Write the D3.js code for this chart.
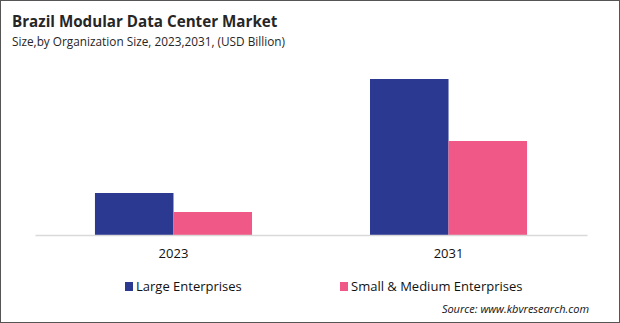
<!DOCTYPE html>
<html>
<head>
<meta charset="utf-8">
<script src="https://cdn.jsdelivr.net/npm/d3@7"></script>
<style>
  body { margin: 0; background: #fff; }
  svg { display: block; font-family: "Open Sans", "Noto Sans", sans-serif; }
</style>
</head>
<body>
<svg width="620" height="323"></svg>
<script>
// data (USD Billion, estimated)
const years = ["2023", "2031"]
const segments = ["Large Enterprises", "Small & Medium Enterprises"]
const largeValues = [0.42, 1.56]
const smallValues = [0.23, 0.94]
const colors = ["#2b3990", "#ef5887"]

const width = 620, height = 323
const margin = {top: 55, right: 33, bottom: 88, left: 35}

const svg = d3.select("svg")

// frame
svg.append("rect")
  .attr("x", 0.5).attr("y", 0.5)
  .attr("width", width - 1).attr("height", height - 1)
  .attr("fill", "#fff")
  .attr("stroke", "#555")

svg.append("text")
  .attr("x", 12).attr("y", 27)
  .attr("font-size", "15.2px")
  .attr("font-weight", "bold")
  .attr("fill", "#262626")
  .text("Brazil Modular Data Center Market")

svg.append("text")
  .attr("x", 12).attr("y", 46)
  .attr("font-size", "11.8px")
  .attr("fill", "#262626")
  .text("Size,by Organization Size, 2023,2031, (USD Billion)")

const rows = years.map((y, i) => ({year: y, values: [largeValues[i], smallValues[i]]}))

const x0 = d3.scaleBand()
  .domain(years)
  .range([margin.left, width - margin.right])
  .paddingInner(0.429)
  .paddingOuter(0.218)

const x1 = d3.scaleBand()
  .domain(d3.range(segments.length))
  .range([0, x0.bandwidth()])

const y = d3.scaleLinear()
  .domain([0, 1.8])
  .range([height - margin.bottom, height - margin.bottom - 180])

const groups = svg.append("g")
  .selectAll("g")
  .data(rows)
  .join("g")
    .attr("transform", d => `translate(${x0(d.year)},0)`)

groups.selectAll("rect")
  .data(d => d.values)
  .join("rect")
    .attr("x", (d, i) => x1(i))
    .attr("width", x1.bandwidth())
    .attr("y", d => y(d))
    .attr("height", d => y(0) - y(d))
    .attr("fill", (d, i) => colors[i])

// x axis
const xAxis = svg.append("g")
  .attr("transform", `translate(0, ${y(0)})`)
  .call(d3.axisBottom(x0).tickSize(0).tickPadding(14))
xAxis.select(".domain").attr("stroke", "#d9d9d9").attr("stroke-width", 1.5)
xAxis.selectAll("text")
  .attr("font-size", "13px")
  .attr("font-family", "Open Sans, sans-serif")
  .attr("fill", "#111")

// legend
const legendX = [125, 340]
const legend = svg.append("g")
  .selectAll("g")
  .data(segments)
  .join("g")
    .attr("transform", (d, i) => `translate(${legendX[i]}, 282)`)

legend.append("rect")
  .attr("width", 8).attr("height", 9)
  .attr("fill", (d, i) => colors[i])

legend.append("text")
  .attr("x", 11).attr("y", 9)
  .attr("font-size", "13px")
  .attr("fill", "#111")
  .text(d => d)

svg.append("text")
  .attr("x", 589).attr("y", 313)
  .attr("text-anchor", "end")
  .attr("font-size", "11px")
  .attr("font-style", "italic")
  .attr("fill", "#111")
  .text("Source: www.kbvresearch.com")
</script>
</body>
</html>
